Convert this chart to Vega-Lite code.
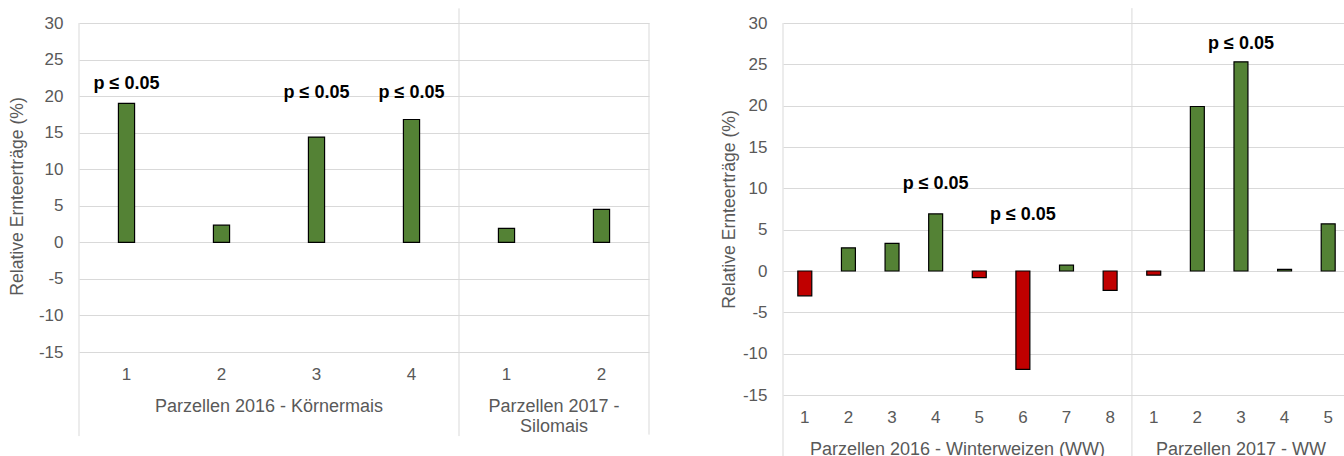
{
  "$schema": "https://vega.github.io/schema/vega-lite/v6.json",
  "background": "white",
  "padding": {"left": 8, "top": 7, "right": 0, "bottom": 0},
  "spacing": 134,
  "bounds": "flush",
  "config": {
    "view": {"stroke": null},
    "font": "Liberation Sans",
    "axis": {
      "domain": false,
      "ticks": false,
      "labelColor": "#595959",
      "labelFont": "Liberation Sans",
      "labelFontSize": 17,
      "titleColor": "#595959",
      "titleFont": "Liberation Sans",
      "titleFontSize": 17.6,
      "titleFontWeight": "normal",
      "gridColor": "#d9d9d9",
      "gridWidth": 1
    }
  },
  "hconcat": [
    {
      "width": 570,
      "height": 329,
      "layer": [
        {
          "data": {
            "values": [
              {"cat": "K1", "group": "Parzellen 2016 - Körnermais", "plot": 1, "value": 19.0},
              {"cat": "K2", "group": "Parzellen 2016 - Körnermais", "plot": 2, "value": 2.35},
              {"cat": "K3", "group": "Parzellen 2016 - Körnermais", "plot": 3, "value": 14.4},
              {"cat": "K4", "group": "Parzellen 2016 - Körnermais", "plot": 4, "value": 16.8},
              {"cat": "S1", "group": "Parzellen 2017 - Silomais", "plot": 1, "value": 1.9},
              {"cat": "S2", "group": "Parzellen 2017 - Silomais", "plot": 2, "value": 4.5}
            ]
          },
          "mark": {"type": "bar", "stroke": "black", "strokeWidth": 1.2, "width": {"band": 0.17}},
          "encoding": {
            "x": {
              "field": "cat",
              "type": "nominal",
              "sort": null,
              "scale": {"domain": ["K1", "K2", "K3", "K4", "S1", "S2"], "paddingInner": 0, "paddingOuter": 0},
              "axis": {"title": null, "labelAngle": 0, "labelPadding": 14, "grid": false, "labelExpr": "substring(datum.value, 1)"}
            },
            "y": {
              "field": "value",
              "type": "quantitative",
              "scale": {"domain": [-15, 30], "nice": false},
              "axis": {
                "title": "Relative Ernteerträge (%)",
                "values": [-15, -10, -5, 0, 5, 10, 15, 20, 25, 30],
                "tickCount": 20,
                "labelExpr": "toString(datum.value)",
                "grid": true,
                "labelOverlap": false,
                "labelPadding": 16,
                "titlePadding": 12,
                "titleY": 173,
                "labelFontSize": 17
              }
            },
            "fill": {"condition": {"test": "datum.value < 0", "value": "#C00000"}, "value": "#548235"}
          }
        },
        {
          "data": {"values": [{"cat": "K1"}]},
          "mark": {"type": "rule", "color": "#d9d9d9", "strokeWidth": 1},
          "encoding": {
            "x": {"field": "cat", "type": "nominal", "bandPosition": 0},
            "y": {"datum": 30},
            "y2": {"datum": -26.5}
          }
        },
        {
          "data": {"values": [{"cat": "S1"}]},
          "mark": {"type": "rule", "color": "#d9d9d9", "strokeWidth": 1},
          "encoding": {
            "x": {"field": "cat", "type": "nominal", "bandPosition": 0},
            "y": {"datum": 32},
            "y2": {"datum": -26.5}
          }
        },
        {
          "data": {"values": [{"cat": "S2"}]},
          "mark": {"type": "rule", "color": "#d9d9d9", "strokeWidth": 1},
          "encoding": {
            "x": {"field": "cat", "type": "nominal", "bandPosition": 1},
            "y": {"datum": 30},
            "y2": {"datum": -26.3}
          }
        },
        {
          "data": {
            "values": [
              {"cat": "K1", "label": "p ≤ 0.05", "y": 21.7},
              {"cat": "K3", "label": "p ≤ 0.05", "y": 20.4},
              {"cat": "K4", "label": "p ≤ 0.05", "y": 20.4}
            ]
          },
          "mark": {"type": "text", "font": "Liberation Sans", "fontSize": 18, "fontWeight": "bold", "color": "black", "baseline": "middle", "align": "center"},
          "encoding": {
            "x": {"field": "cat", "type": "nominal"},
            "y": {"field": "y", "type": "quantitative"},
            "text": {"field": "label"}
          }
        },
        {
          "data": {"values": [{"cat": "K3", "label": "Parzellen 2016 - Körnermais"}]},
          "mark": {"type": "text", "font": "Liberation Sans", "fontSize": 18, "color": "#595959", "baseline": "alphabetic", "align": "center"},
          "encoding": {
            "x": {"field": "cat", "type": "nominal", "bandPosition": 0},
            "y": {"datum": -23.2},
            "text": {"field": "label"}
          }
        },
        {
          "data": {"values": [{"cat": "S2", "label": "Parzellen 2017 -\nSilomais"}]},
          "mark": {"type": "text", "font": "Liberation Sans", "fontSize": 18, "color": "#595959", "baseline": "alphabetic", "align": "center", "lineBreak": "\n", "lineHeight": 20},
          "encoding": {
            "x": {"field": "cat", "type": "nominal", "bandPosition": 0},
            "y": {"datum": -23.2},
            "text": {"field": "label"}
          }
        }
      ]
    },
    {
      "width": 567,
      "height": 372,
      "layer": [
        {
          "data": {
            "values": [
              {"cat": "W1", "group": "Parzellen 2016 - Winterweizen (WW)", "plot": 1, "value": -3.0},
              {"cat": "W2", "group": "Parzellen 2016 - Winterweizen (WW)", "plot": 2, "value": 2.8},
              {"cat": "W3", "group": "Parzellen 2016 - Winterweizen (WW)", "plot": 3, "value": 3.35},
              {"cat": "W4", "group": "Parzellen 2016 - Winterweizen (WW)", "plot": 4, "value": 6.9},
              {"cat": "W5", "group": "Parzellen 2016 - Winterweizen (WW)", "plot": 5, "value": -0.8},
              {"cat": "W6", "group": "Parzellen 2016 - Winterweizen (WW)", "plot": 6, "value": -11.9},
              {"cat": "W7", "group": "Parzellen 2016 - Winterweizen (WW)", "plot": 7, "value": 0.7},
              {"cat": "W8", "group": "Parzellen 2016 - Winterweizen (WW)", "plot": 8, "value": -2.35},
              {"cat": "S1", "group": "Parzellen 2017 - WW", "plot": 1, "value": -0.5},
              {"cat": "S2", "group": "Parzellen 2017 - WW", "plot": 2, "value": 19.9},
              {"cat": "S3", "group": "Parzellen 2017 - WW", "plot": 3, "value": 25.3},
              {"cat": "S4", "group": "Parzellen 2017 - WW", "plot": 4, "value": 0.2},
              {"cat": "S5", "group": "Parzellen 2017 - WW", "plot": 5, "value": 5.7}
            ]
          },
          "mark": {"type": "bar", "stroke": "black", "strokeWidth": 1.2, "width": {"band": 0.32}},
          "encoding": {
            "x": {
              "field": "cat",
              "type": "nominal",
              "sort": null,
              "scale": {"domain": ["W1", "W2", "W3", "W4", "W5", "W6", "W7", "W8", "S1", "S2", "S3", "S4", "S5"], "paddingInner": 0, "paddingOuter": 0},
              "axis": {"title": null, "labelAngle": 0, "labelPadding": 14, "grid": false, "labelExpr": "substring(datum.value, 1)"}
            },
            "y": {
              "field": "value",
              "type": "quantitative",
              "scale": {"domain": [-15, 30], "nice": false},
              "axis": {
                "title": "Relative Ernteerträge (%)",
                "values": [-15, -10, -5, 0, 5, 10, 15, 20, 25, 30],
                "tickCount": 20,
                "labelExpr": "toString(datum.value)",
                "grid": true,
                "labelOverlap": false,
                "labelPadding": 16,
                "titlePadding": 4,
                "labelFontSize": 17
              }
            },
            "fill": {"condition": {"test": "datum.value < 0", "value": "#C00000"}, "value": "#548235"}
          }
        },
        {
          "data": {"values": [{"cat": "W1"}]},
          "mark": {"type": "rule", "color": "#d9d9d9", "strokeWidth": 1},
          "encoding": {
            "x": {"field": "cat", "type": "nominal", "bandPosition": 0},
            "y": {"datum": 30},
            "y2": {"datum": -25}
          }
        },
        {
          "data": {"values": [{"cat": "S1"}]},
          "mark": {"type": "rule", "color": "#d9d9d9", "strokeWidth": 1},
          "encoding": {
            "x": {"field": "cat", "type": "nominal", "bandPosition": 0},
            "y": {"datum": 31.8},
            "y2": {"datum": -25}
          }
        },
        {
          "data": {
            "values": [
              {"cat": "W4", "label": "p ≤ 0.05", "y": 10.5},
              {"cat": "W6", "label": "p ≤ 0.05", "y": 6.8},
              {"cat": "S3", "label": "p ≤ 0.05", "y": 27.4}
            ]
          },
          "mark": {"type": "text", "font": "Liberation Sans", "fontSize": 18, "fontWeight": "bold", "color": "black", "baseline": "middle", "align": "center"},
          "encoding": {
            "x": {"field": "cat", "type": "nominal"},
            "y": {"field": "y", "type": "quantitative"},
            "text": {"field": "label"}
          }
        },
        {
          "data": {"values": [{"cat": "W5", "label": "Parzellen 2016 - Winterweizen (WW)"}]},
          "mark": {"type": "text", "font": "Liberation Sans", "fontSize": 18, "color": "#595959", "baseline": "alphabetic", "align": "center"},
          "encoding": {
            "x": {"field": "cat", "type": "nominal", "bandPosition": 0},
            "y": {"datum": -22.25},
            "text": {"field": "label"}
          }
        },
        {
          "data": {"values": [{"cat": "S3", "label": "Parzellen 2017 - WW"}]},
          "mark": {"type": "text", "font": "Liberation Sans", "fontSize": 18, "color": "#595959", "baseline": "alphabetic", "align": "center"},
          "encoding": {
            "x": {"field": "cat", "type": "nominal", "bandPosition": 0.5},
            "y": {"datum": -22.25},
            "text": {"field": "label"}
          }
        }
      ]
    }
  ]
}
